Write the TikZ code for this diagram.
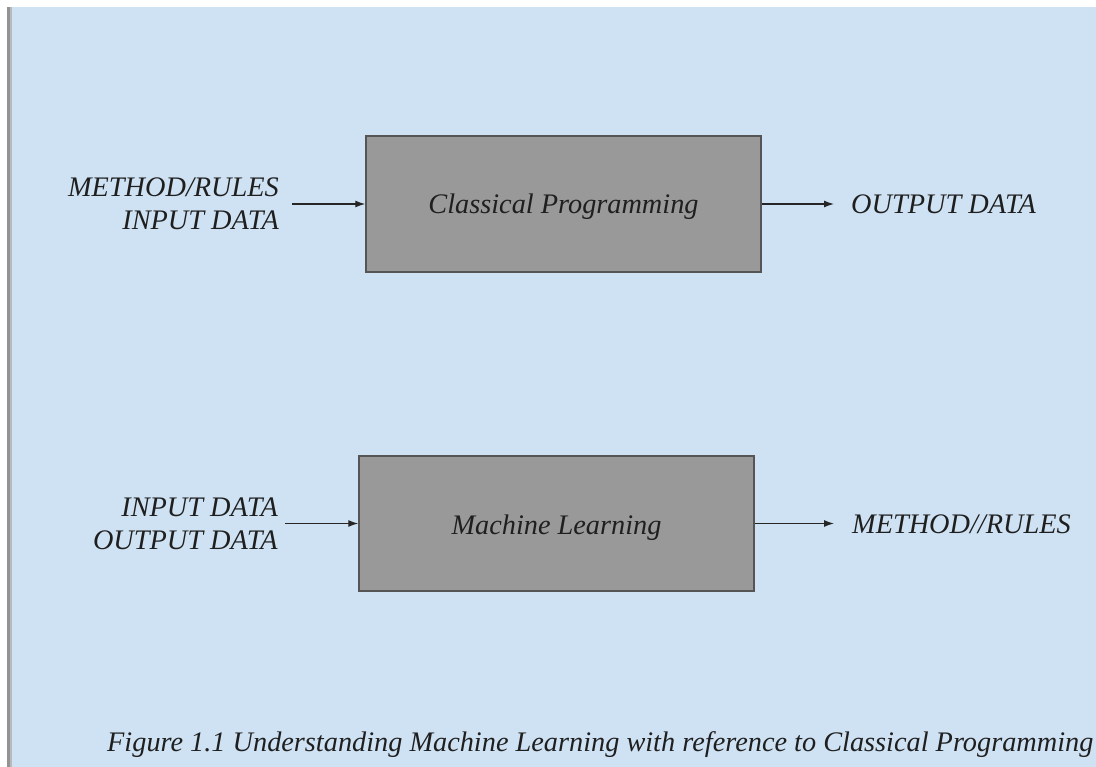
\documentclass[tikz,border=0pt]{standalone}
\usepackage{fontspec}
\setmainfont{Liberation Serif}
\usetikzlibrary{arrows.meta}
\definecolor{bgblue}{HTML}{CFE2F3}
\definecolor{boxgray}{HTML}{999999}
\definecolor{edgegray}{HTML}{555555}
\tikzset{
  procbox/.style={draw=edgegray, line width=1.5pt, fill=boxgray, inner sep=0pt},
  lbl/.style={font=\itshape\fontsize{28.3}{33}\selectfont, inner sep=0pt, text=black!88},
  flow/.style={draw=black!85, line width=1.3pt, -{Latex[length=10pt,width=7pt]}}
}
\begin{document}
\begin{tikzpicture}[x=1pt,y=-1pt]
\useasboundingbox (0,0) rectangle (1096,767);
\fill[white] (0,0) rectangle (1096,767);
\fill[bgblue] (7,7) rectangle (1096,767);
\fill[gray!85] (7,7) rectangle (9.5,767);
\fill[gray!55] (9.5,7) rectangle (12,767);

% Classical programming
\node[procbox, minimum width=395pt, minimum height=136pt] (cp) at (563.5,204) {};
\node[lbl, anchor=base] (cpt) at (563.5,214) {Classical Programming};
\node[lbl, anchor=base east] (in1a) at (279,197) {METHOD/RULES};
\node[lbl, anchor=base east] (in1b) at (279,230) {INPUT DATA};
\coordinate (a1s) at (292,204);
\node[lbl, anchor=base west] (out1) at (851,214) {OUTPUT DATA};
\coordinate (a1e) at (834,204);
\draw[flow] (a1s) -- (cp.west);
\draw[flow] (cp.east) -- (a1e);

% Machine learning
\node[procbox, minimum width=395pt, minimum height=135pt] (ml) at (556.5,523.5) {};
\node[lbl, anchor=base] (mlt) at (556.5,534) {Machine Learning};
\node[lbl, anchor=base east] (in2a) at (278,516) {INPUT DATA};
\node[lbl, anchor=base east] (in2b) at (278,549) {OUTPUT DATA};
\coordinate (a2s) at (285,523.5);
\node[lbl, anchor=base west] (out2) at (852,533) {METHOD//RULES};
\coordinate (a2e) at (834,523.5);
\draw[flow] (a2s) -- (ml.west);
\draw[flow] (ml.east) -- (a2e);

\node[lbl, anchor=base west] (cap) at (107,751) {Figure 1.1 Understanding Machine Learning with reference to Classical Programming};
\end{tikzpicture}
\end{document}
